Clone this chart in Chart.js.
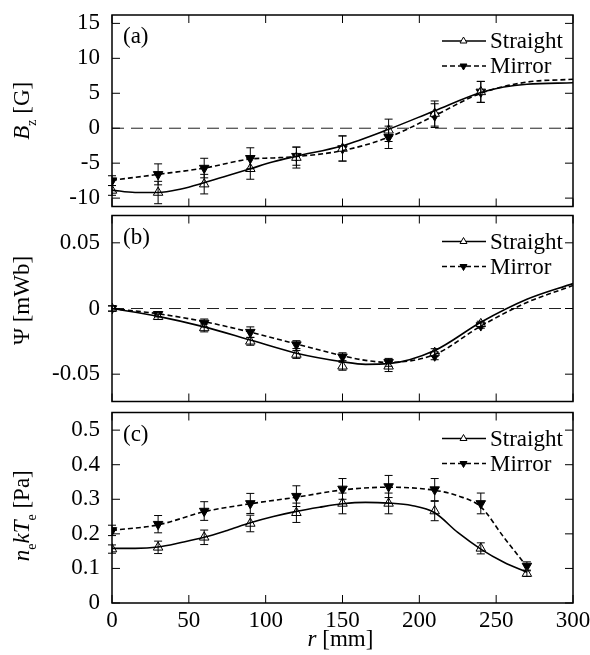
<!DOCTYPE html>
<html>
<head>
<meta charset="utf-8">
<script src="https://cdn.jsdelivr.net/npm/chart.js@4.4.0/dist/chart.umd.min.js"></script>
<style>
  body { margin: 0; background: #fff; }
  #wrap { position: relative; width: 590px; height: 655px; }
  canvas { position: absolute; left: 0; }
</style>
</head>
<body>
<div id="wrap">
  <canvas id="panelA" width="590" height="213" style="top:0px"></canvas>
  <canvas id="panelB" width="590" height="199" style="top:209px"></canvas>
  <canvas id="panelC" width="590" height="249" style="top:406px"></canvas>
</div>
<script>
// ---- data ----
var xTicks = [0, 50, 100, 150, 200, 250, 300];

// (a) Bz [G]
var rA = [0, 30, 60, 90, 120, 150, 180, 210, 240];
var bzStraight    = [-8.9, -9.2, -8.0, -5.8, -4.2, -2.9, -0.3, 2.1, 5.2];
var bzStraightErr = [0.7, 1.6, 1.4, 1.5, 1.5, 1.8, 1.6, 1.8, 1.5];
var bzMirror      = [-7.5, -6.6, -5.7, -4.3, -4.0, -2.9, -1.3, 1.8, 5.2];
var bzMirrorErr   = [0.7, 1.5, 1.4, 1.5, 1.3, 1.8, 1.6, 1.7, 1.5];
var rFitA1 = [0, 15, 30, 45, 60, 75, 90, 105, 120, 150, 180, 210, 240, 255, 270, 300];
var bzFitStraight = [-8.85, -9.2, -9.2, -8.7, -7.8, -6.8, -5.8, -4.8, -4.0, -2.5, -0.15, 2.5, 5.1, 5.9, 6.3, 6.5];
var rFitA2 = [0, 30, 60, 90, 105, 120, 150, 180, 210, 240, 270, 300];
var bzFitMirror = [-7.45, -6.6, -5.7, -4.4, -4.25, -4.05, -3.2, -1.3, 1.8, 5.0, 6.6, 7.0];
var yTicksA = [-10, -5, 0, 5, 10, 15];

// (b) Psi [mWb]
var rB = [0, 30, 60, 90, 120, 150, 180, 210, 240];
var psiStraight    = [0, -0.0063, -0.0148, -0.025, -0.035, -0.044, -0.044, -0.0336, -0.0117];
var psiStraightErr = [0.002, 0.002, 0.003, 0.003, 0.003, 0.003, 0.004, 0.003, 0.002];
var psiMirror      = [0, -0.0044, -0.011, -0.018, -0.0275, -0.0367, -0.041, -0.036, -0.013];
var psiMirrorErr   = [0.002, 0.002, 0.003, 0.004, 0.003, 0.003, 0.003, 0.003, 0.002];
var rFitB = [0, 30, 60, 90, 120, 150, 165, 180, 210, 240, 270, 300];
var psiFitStraight = [0, -0.006, -0.014, -0.024, -0.034, -0.0405, -0.0425, -0.042, -0.032, -0.0105, 0.007, 0.019];
var psiFitMirror   = [0, -0.004, -0.010, -0.018, -0.027, -0.036, -0.0395, -0.041, -0.035, -0.0134, 0.0046, 0.0175];
var yTicksB = [-0.05, 0, 0.05];

// (c) ne k Te [Pa]
var rC = [0, 30, 60, 90, 120, 150, 180, 210, 240, 270];
var neStraight    = [0.156, 0.161, 0.19, 0.23, 0.261, 0.288, 0.288, 0.266, 0.158, 0.085];
var neStraightErr = [0.012, 0.018, 0.021, 0.024, 0.028, 0.03, 0.03, 0.028, 0.016, 0.008];
var neMirror      = [0.21, 0.228, 0.266, 0.288, 0.309, 0.33, 0.337, 0.328, 0.288, 0.107];
var neMirrorErr   = [0.015, 0.025, 0.027, 0.029, 0.03, 0.03, 0.032, 0.032, 0.03, 0.012];
var rFitC1 = [0, 15, 30, 45, 60, 75, 90, 105, 120, 135, 150, 165, 180, 195, 210, 225, 240, 255, 270];
var neFitStraight = [0.158, 0.158, 0.162, 0.175, 0.19, 0.21, 0.232, 0.25, 0.265, 0.277, 0.287, 0.291, 0.289, 0.282, 0.261, 0.204, 0.156, 0.118, 0.089];
var rFitC2 = [0, 30, 60, 90, 120, 150, 180, 210, 225, 240, 255, 270];
var neFitMirror = [0.21, 0.226, 0.264, 0.287, 0.306, 0.327, 0.335, 0.326, 0.31, 0.278, 0.19, 0.105];
var yTicksC = [0, 0.1, 0.2, 0.3, 0.4, 0.5];

var serif = "'Liberation Serif', 'Times New Roman', serif";
var fs = 23;
Chart.defaults.font.family = serif;
Chart.defaults.color = '#000';

function pts(xs, ys) {
    var out = [];
    for (var i = 0; i < xs.length; i++) out.push({x: xs[i], y: ys[i]});
    return out;
}

function fontFor(p, size) {
    return (p.italic ? 'italic ' : '') + (p.sub ? Math.round(size * 0.6) : size) + 'px ' + serif;
}

// text with italics / subscripts, centred on 0,0 (baseline at y=0)
function drawRich(ctx, parts, size) {
    var w = 0;
    parts.forEach(function (p) {
        ctx.font = fontFor(p, size);
        p.w = ctx.measureText(p.t).width;
        w += p.w;
    });
    var x = -w / 2;
    ctx.textAlign = 'left';
    ctx.textBaseline = 'alphabetic';
    parts.forEach(function (p) {
        ctx.font = fontFor(p, size);
        ctx.fillText(p.t, x, p.sub ? size * 0.3 : 0);
        x += p.w;
    });
}

// frame, inward ticks, zero line, error bars, legend, labels
var decoPlugin = {
    id: 'deco',
    beforeDatasetsDraw: function (chart) {
        var o = chart.options.plugins.deco;
        if (!o.zeroLine) return;
        var ctx = chart.ctx, a = chart.chartArea;
        var y0 = chart.scales.y.getPixelForValue(0);
        ctx.save();
        ctx.strokeStyle = '#222';
        ctx.lineWidth = 1;
        ctx.setLineDash([12, 7]);
        ctx.beginPath();
        ctx.moveTo(a.left, y0);
        ctx.lineTo(a.right, y0);
        ctx.stroke();
        ctx.restore();
    },
    afterDatasetsDraw: function (chart) {
        var o = chart.options.plugins.deco;
        var ctx = chart.ctx, a = chart.chartArea;
        var xs = chart.scales.x, ys = chart.scales.y;
        ctx.save();
        ctx.strokeStyle = '#000';
        ctx.fillStyle = '#000';

        // error bars
        ctx.lineWidth = 1;
        chart.data.datasets.forEach(function (ds, i) {
            if (!ds.errs) return;
            var meta = chart.getDatasetMeta(i);
            meta.data.forEach(function (el, j) {
                var v = ds.data[j].y, e = ds.errs[j];
                var yt = ys.getPixelForValue(v + e), yb = ys.getPixelForValue(v - e);
                ctx.beginPath();
                ctx.moveTo(el.x, yt); ctx.lineTo(el.x, yb);
                ctx.moveTo(el.x - 4, yt); ctx.lineTo(el.x + 4, yt);
                ctx.moveTo(el.x - 4, yb); ctx.lineTo(el.x + 4, yb);
                ctx.stroke();
            });
        });

        // ticks pointing inside
        ctx.lineWidth = 1;
        ctx.beginPath();
        xTicks.forEach(function (v) {
            var px = xs.getPixelForValue(v);
            ctx.moveTo(px, a.top); ctx.lineTo(px, a.top + 8);
            ctx.moveTo(px, a.bottom); ctx.lineTo(px, a.bottom - 8);
        });
        o.yTicks.forEach(function (v) {
            var py = ys.getPixelForValue(v);
            ctx.moveTo(a.left, py); ctx.lineTo(a.left + 8, py);
            ctx.moveTo(a.right, py); ctx.lineTo(a.right - 8, py);
        });
        ctx.stroke();

        // frame
        ctx.lineWidth = 1.5;
        ctx.strokeRect(a.left, a.top, a.right - a.left, a.bottom - a.top);

        // panel letter
        ctx.font = fs + 'px ' + serif;
        ctx.textAlign = 'left';
        ctx.textBaseline = 'alphabetic';
        ctx.fillText(o.letter, a.left + 11, a.top + 28);

        // legend
        var entries = [
            {label: 'Straight', dash: [], fill: '#fff', rot: 0, dy: 26},
            {label: 'Mirror', dash: [5, 3], fill: '#000', rot: 180, dy: 51}
        ];
        entries.forEach(function (en) {
            var ly = a.top + en.dy;
            ctx.lineWidth = 1.6;
            ctx.setLineDash(en.dash);
            ctx.beginPath();
            ctx.moveTo(442, ly); ctx.lineTo(486, ly);
            ctx.stroke();
            ctx.setLineDash([]);
            ctx.fillStyle = en.fill;
            ctx.lineWidth = 1;
            Chart.helpers.drawPoint(ctx, {pointStyle: 'triangle', radius: 4, rotation: en.rot, borderWidth: 1}, 463.5, ly);
            ctx.fillStyle = '#000';
            ctx.font = fs + 'px ' + serif;
            ctx.textBaseline = 'middle';
            ctx.textAlign = 'left';
            ctx.fillText(en.label, 490, ly + 1);
        });

        // y title, rotated
        ctx.save();
        ctx.translate(29, (a.top + a.bottom) / 2 + (o.titleShift || 0));
        ctx.rotate(-Math.PI / 2);
        drawRich(ctx, o.title, fs);
        ctx.restore();

        // x title
        if (o.xTitle) {
            ctx.save();
            ctx.translate((a.left + a.right) / 2 - 2, chart.height - 9);
            drawRich(ctx, o.xTitle, fs);
            ctx.restore();
        }
        ctx.restore();
    }
};

function makePanel(id, cfg) {
    var ctx = document.getElementById(id);
    return new Chart(ctx, {
        type: 'line',
        data: {
            datasets: [
                {data: cfg.fitS, borderColor: '#000', borderWidth: 1.6, pointRadius: 0, cubicInterpolationMode: 'monotone', fill: false},
                {data: cfg.fitM, borderColor: '#000', borderWidth: 1.6, borderDash: [5, 3], pointRadius: 0, cubicInterpolationMode: 'monotone', fill: false},
                {data: cfg.ptsS, errs: cfg.errS, showLine: false, pointStyle: 'triangle', pointRadius: 5.5, pointBorderWidth: 1,
                    pointBackgroundColor: '#fff', pointBorderColor: '#000'},
                {data: cfg.ptsM, errs: cfg.errM, showLine: false, pointStyle: 'triangle', pointRotation: 180, pointRadius: 5.5, pointBorderWidth: 1,
                    pointBackgroundColor: '#000', pointBorderColor: '#000'}
            ]
        },
        options: {
            responsive: false,
            animation: false,
            devicePixelRatio: 1,
            layout: {padding: cfg.padding},
            scales: {
                x: {
                    type: 'linear', min: 0, max: 300,
                    display: cfg.showX,
                    grid: {display: false, drawTicks: false}, border: {display: false},
                    afterBuildTicks: function (s) { s.ticks = xTicks.map(function (v) { return {value: v}; }); },
                    afterFit: function (s) {
                        if (cfg.showX) s.height = 52;
                        s.paddingLeft = 0; s.paddingRight = 0;
                    },
                    ticks: {font: {size: fs, family: serif}, color: '#000', padding: 4, maxRotation: 0}
                },
                y: {
                    min: cfg.yMin, max: cfg.yMax,
                    grid: {display: false, drawTicks: false}, border: {display: false},
                    afterBuildTicks: function (s) { s.ticks = cfg.yTicks.map(function (v) { return {value: v}; }); },
                    afterFit: function (s) {
                        s.width = 112;
                        s.paddingTop = 0; s.paddingBottom = 0;
                    },
                    ticks: {font: {size: fs, family: serif}, color: '#000', padding: 12,
                        callback: function (v) { return String(v); }}
                }
            },
            plugins: {
                legend: {display: false},
                tooltip: {enabled: false},
                deco: {
                    yTicks: cfg.yTicks, zeroLine: cfg.zeroLine, letter: cfg.letter,
                    title: cfg.title, titleShift: cfg.titleShift, xTitle: cfg.xTitle
                }
            }
        },
        plugins: [decoPlugin]
    });
}

makePanel('panelA', {
    fitS: pts(rFitA1, bzFitStraight), fitM: pts(rFitA2, bzFitMirror),
    ptsS: pts(rA, bzStraight), errS: bzStraightErr,
    ptsM: pts(rA, bzMirror), errM: bzMirrorErr,
    yMin: -11.2, yMax: 16.2, yTicks: yTicksA,
    padding: {top: 15, bottom: 2, left: 0, right: 17},
    showX: false, zeroLine: true, letter: '(a)',
    title: [{t: 'B', italic: true}, {t: 'z', sub: true}, {t: ' [G]'}]
});

makePanel('panelB', {
    fitS: pts(rFitB, psiFitStraight), fitM: pts(rFitB, psiFitMirror),
    ptsS: pts(rB, psiStraight), errS: psiStraightErr,
    ptsM: pts(rB, psiMirror), errM: psiMirrorErr,
    yMin: -0.0708, yMax: 0.0708, yTicks: yTicksB,
    padding: {top: 3, bottom: 2, left: 0, right: 17},
    showX: false, zeroLine: true, letter: '(b)', titleShift: -8,
    title: [{t: '\u03A8 [mWb]'}]
});

makePanel('panelC', {
    fitS: pts(rFitC1, neFitStraight), fitM: pts(rFitC2, neFitMirror),
    ptsS: pts(rC, neStraight), errS: neStraightErr,
    ptsM: pts(rC, neMirror), errM: neMirrorErr,
    yMin: 0, yMax: 0.551, yTicks: yTicksC,
    padding: {top: 4, bottom: 0, left: 0, right: 17},
    showX: true, zeroLine: false, letter: '(c)', titleShift: 8,
    title: [{t: 'n', italic: true}, {t: 'e', sub: true}, {t: 'kT', italic: true}, {t: 'e', sub: true}, {t: ' [Pa]'}],
    xTitle: [{t: 'r', italic: true}, {t: ' [mm]'}]
});
</script>
</body>
</html>
